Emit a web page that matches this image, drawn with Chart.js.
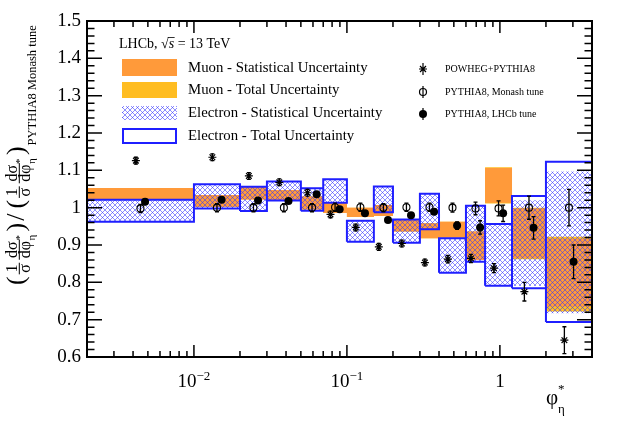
<!DOCTYPE html>
<html>
<head>
<meta charset="utf-8">
<script src="https://cdn.jsdelivr.net/npm/chart.js@4.4.1/dist/chart.umd.min.js"></script>
<style>
  html, body { margin: 0; padding: 0; background: #fff; }
</style>
</head>
<body>
<canvas id="phiChart" width="623" height="426" style="width:623px;height:426px"></canvas>
<script>
// phi*_eta ratio to PYTHIA8 Monash tune
const binEdges = [0.002, 0.01, 0.02, 0.03, 0.05, 0.07, 0.1, 0.15, 0.2, 0.3, 0.4, 0.6, 0.8, 1.2, 2.0, 4.0];

const muonStatLow  = [1.021, 1.002, 1.022, 1.019, 0.995, 0.986, 0.975, 0.978, 0.936, 0.918, 0.920, 0.860, 1.013, 0.865, 0.735];
const muonStatHigh = [1.053, 1.034, 1.057, 1.047, 1.030, 1.013, 1.000, 1.007, 0.969, 0.958, 0.962, 0.936, 1.106, 0.998, 0.917];
const muonTotLow   = [1.021, 1.002, 1.022, 1.019, 0.995, 0.986, 0.975, 0.978, 0.936, 0.918, 0.920, 0.860, 1.011, 0.862, 0.722];
const muonTotHigh  = [1.053, 1.034, 1.057, 1.047, 1.030, 1.013, 1.000, 1.007, 0.969, 0.958, 0.962, 0.936, 1.108, 1.000, 0.922];

const elecStatLow  = [0.962, 0.998, 0.991, 1.019, 0.992, 1.013, 0.909, 0.988, 0.906, 0.942, 0.826, 0.855, 0.791, 0.790, 0.717];
const elecStatHigh = [1.021, 1.063, 1.056, 1.070, 1.052, 1.076, 0.965, 1.057, 0.968, 1.037, 0.918, 1.005, 0.956, 1.020, 1.097];
const elecTotLow   = [0.962, 0.998, 0.991, 1.019, 0.992, 1.013, 0.909, 0.988, 0.906, 0.942, 0.826, 0.855, 0.791, 0.784, 0.694];
const elecTotHigh  = [1.021, 1.063, 1.056, 1.070, 1.052, 1.076, 0.965, 1.057, 0.968, 1.037, 0.918, 1.005, 0.956, 1.031, 1.123];

const powhegVal = [1.126, 1.135, 1.085, 1.068, 1.040, 0.982, 0.947, 0.895, 0.904, 0.853, 0.862, 0.864, 0.838, 0.775, 0.645];
const powhegErr = [0.009, 0.009, 0.009, 0.009, 0.009, 0.009, 0.009, 0.009, 0.009, 0.009, 0.010, 0.011, 0.012, 0.025, 0.036];
const monashVal = [0.998, 1.000, 1.000, 1.000, 1.000, 1.001, 1.001, 1.000, 1.001, 1.001, 1.000, 0.998, 0.998, 1.000, 1.000];
const monashErr = [0.011, 0.011, 0.011, 0.011, 0.011, 0.011, 0.011, 0.011, 0.011, 0.011, 0.012, 0.017, 0.020, 0.031, 0.049];
const lhcbVal   = [1.016, 1.021, 1.019, 1.018, 1.036, 0.996, 0.985, 0.967, 0.980, 0.989, 0.952, 0.947, 0.985, 0.946, 0.855];
const lhcbErr   = [0.005, 0.005, 0.005, 0.005, 0.005, 0.005, 0.005, 0.005, 0.005, 0.006, 0.010, 0.018, 0.022, 0.030, 0.045];

const yTickValues = [0.6, 0.7, 0.8, 0.9, 1.0, 1.1, 1.2, 1.3, 1.4, 1.5];
const yTickLabels = ['0.6', '0.7', '0.8', '0.9', '1', '1.1', '1.2', '1.3', '1.4', '1.5'];
const xTickValues = [0.01, 0.1, 1];
const xTickLabels = [['10', '\u22122'], ['10', '\u22121'], ['1', '']];

const ORANGE = '#ff9a3a';
const YELLOW = '#ffbd22';
const BLUE = '#1f1fff';
const SERIF = '"Liberation Serif", "Times New Roman", serif';

// bin centres (log) and small sideways offsets per model
const centres = powhegVal.map((_, i) => Math.sqrt(binEdges[i] * binEdges[i + 1]));
const shift = Math.pow(10, 0.03);
const capW = Math.pow(10, 0.013);

function stepLine(vals) {
  return binEdges.map((e, i) => ({ x: e, y: vals[Math.min(i, vals.length - 1)] }));
}

function boxOutlines(lo, hi) {
  const pts = [];
  lo.forEach((l, i) => {
    const a = binEdges[i], b = binEdges[i + 1];
    pts.push({ x: a, y: l }, { x: a, y: hi[i] }, { x: b, y: hi[i] }, { x: b, y: l }, { x: a, y: l }, { x: a, y: null });
  });
  return pts;
}

function errorBars(xs, vals, errs) {
  const pts = [];
  xs.forEach((x, i) => {
    const lo = vals[i] - errs[i], hi = vals[i] + errs[i];
    pts.push({ x: x, y: lo }, { x: x, y: hi }, { x: x, y: null });
    pts.push({ x: x / capW, y: lo }, { x: x * capW, y: lo }, { x: x, y: null });
    pts.push({ x: x / capW, y: hi }, { x: x * capW, y: hi }, { x: x, y: null });
  });
  return pts;
}

function makeHatch() {
  const c = document.createElement('canvas');
  c.width = 5; c.height = 5;
  const g = c.getContext('2d');
  g.strokeStyle = 'rgba(50,50,255,0.8)';
  g.lineWidth = 0.7;
  g.beginPath();
  g.moveTo(-1, -1); g.lineTo(6, 6);
  g.moveTo(6, -1); g.lineTo(-1, 6);
  g.stroke();
  return g.createPattern(c, 'repeat');
}
const hatch = makeHatch();

const powhegX = centres.map(c => c / shift);
const monashX = centres;
const lhcbX = centres.map(c => c * shift);

const bandLine = { type: 'line', stepped: true, borderColor: 'rgba(0,0,0,0)', borderWidth: 0, pointRadius: 0 };

function drawYTitle(ctx) {
  ctx.save();
  ctx.translate(19, 285);
  ctx.rotate(-Math.PI / 2);
  ctx.fillStyle = '#000';
  ctx.textBaseline = 'alphabetic';
  const big = '26px ' + SERIF, mid = '16px ' + SERIF, small = '11px ' + SERIF;
  let x = 0;
  const put = (t, font, y) => { ctx.font = font; ctx.fillText(t, x, y); x += ctx.measureText(t).width; };
  const frac = (num, den) => {
    ctx.font = mid;
    const wn = ctx.measureText(num).width, wd = ctx.measureText(den).width;
    const w = Math.max(wn, wd) + 3;
    ctx.fillText(num, x + (w - wn) / 2, -2.5);
    ctx.fillText(den, x + (w - wd) / 2, 10.5);
    ctx.fillRect(x, -0.2, w, 1);
    return w;
  };
  const group = () => {
    put('(', big, 5);
    x += 2;
    x += frac('1', '\u03c3') + 3;
    const w = frac('d\u03c3', 'd\u03c6');
    ctx.font = small;
    ctx.fillText('*', x + w - 1, 4);
    ctx.fillText('\u03b7', x + w - 1, 16);
    x += w + 8;
    put(')', big, 5);
  };
  group();
  x += 2;
  put('/', big, 5);
  x += 5;
  group();
  ctx.font = '12.5px ' + SERIF;
  ctx.fillText('PYTHIA8 Monash tune', x + 1, 17);
  ctx.restore();
}

const decorPlugin = {
  id: 'rootDecor',
  afterDraw(chart) {
    const { ctx, chartArea: a, scales: { x, y } } = chart;
    ctx.save();
    ctx.strokeStyle = '#000';
    ctx.fillStyle = '#000';

    // ticks on all four sides, pointing inward
    ctx.lineWidth = 1.5;
    ctx.beginPath();
    for (let i = 0; i <= 45; i++) {
      const py = y.getPixelForValue(0.6 + i * 0.02);
      const len = i % 5 === 0 ? 15 : 7.5;
      ctx.moveTo(a.left, py); ctx.lineTo(a.left + len, py);
      ctx.moveTo(a.right, py); ctx.lineTo(a.right - len, py);
    }
    for (let d = -3; d <= 0; d++) {
      for (let m = 1; m <= 9; m++) {
        const v = m * Math.pow(10, d);
        if (v < 0.002 - 1e-9 || v > 4 + 1e-9) continue;
        const px = x.getPixelForValue(v);
        const len = m === 1 ? 12 : 6;
        ctx.moveTo(px, a.bottom); ctx.lineTo(px, a.bottom - len);
        ctx.moveTo(px, a.top); ctx.lineTo(px, a.top + len);
      }
    }
    ctx.stroke();
    ctx.lineWidth = 2;
    ctx.strokeRect(a.left, a.top, a.right - a.left, a.bottom - a.top);

    // tick labels
    ctx.font = '19px ' + SERIF;
    ctx.textAlign = 'right';
    ctx.textBaseline = 'middle';
    yTickValues.forEach((v, i) => ctx.fillText(yTickLabels[i], a.left - 6, y.getPixelForValue(v)));
    ctx.textAlign = 'left';
    ctx.textBaseline = 'alphabetic';
    xTickValues.forEach((v, i) => {
      const [base, sup] = xTickLabels[i];
      ctx.font = '19px ' + SERIF;
      const wb = ctx.measureText(base).width;
      ctx.font = '13px ' + SERIF;
      const ws = sup ? ctx.measureText(sup).width : 0;
      const x0 = x.getPixelForValue(v) - (wb + ws) / 2;
      ctx.font = '19px ' + SERIF;
      ctx.fillText(base, x0, 387);
      if (sup) { ctx.font = '13px ' + SERIF; ctx.fillText(sup, x0 + wb, 380); }
    });

    // axis titles
    ctx.font = '21px ' + SERIF;
    ctx.fillText('\u03c6', 546, 404);
    ctx.font = '13px ' + SERIF;
    ctx.fillText('*', 558, 393);
    ctx.fillText('\u03b7', 558, 413);
    drawYTitle(ctx);

    // legend, left column
    ctx.font = '14px ' + SERIF;
    let tx = 119;
    const hdr1 = 'LHCb, \u221a';
    ctx.fillText(hdr1, tx, 48);
    tx += ctx.measureText(hdr1).width;
    ctx.font = 'italic 14px ' + SERIF;
    ctx.fillText('s', tx, 48);
    const ws = ctx.measureText('s').width;
    ctx.fillRect(tx - 1, 37, ws + 1.5, 0.8);
    tx += ws;
    ctx.font = '14px ' + SERIF;
    ctx.fillText(' = 13 TeV', tx, 48);

    ctx.fillStyle = ORANGE; ctx.fillRect(122, 59, 55, 17);
    ctx.fillStyle = YELLOW; ctx.fillRect(122, 82, 55, 16);
    ctx.fillStyle = hatch; ctx.fillRect(122, 106, 55, 14);
    ctx.strokeStyle = BLUE; ctx.lineWidth = 2; ctx.strokeRect(123, 129, 53, 14);
    ctx.fillStyle = '#000';
    ctx.textBaseline = 'middle';
    ctx.font = '14.8px ' + SERIF;
    ['Muon - Statistical Uncertainty', 'Muon - Total Uncertainty',
     'Electron - Statistical Uncertainty', 'Electron - Total Uncertainty']
      .forEach((t, i) => ctx.fillText(t, 188, [68, 90, 113, 136][i]));

    // legend, right column
    ctx.font = '10px ' + SERIF;
    ['POWHEG+PYTHIA8', 'PYTHIA8, Monash tune', 'PYTHIA8, LHCb tune']
      .forEach((t, i) => ctx.fillText(t, 445, [69, 92, 114][i]));
    ctx.strokeStyle = '#000';
    ctx.lineWidth = 1.2;
    ctx.beginPath();
    [69, 92, 114].forEach(cy => { ctx.moveTo(423, cy - 6); ctx.lineTo(423, cy + 6); });
    ctx.moveTo(419, 69); ctx.lineTo(427, 69);
    ctx.moveTo(420, 66); ctx.lineTo(426, 72);
    ctx.moveTo(426, 66); ctx.lineTo(420, 72);
    ctx.stroke();
    ctx.beginPath(); ctx.arc(423, 92, 3.5, 0, Math.PI * 2); ctx.stroke();
    ctx.beginPath(); ctx.arc(423, 114, 4, 0, Math.PI * 2); ctx.fill();
    ctx.restore();
  }
};

const ctx = document.getElementById('phiChart').getContext('2d');
const phiChart = new Chart(ctx, {
  type: 'line',
  data: {
    datasets: [
      { label: 'PYTHIA8, LHCb tune', data: lhcbX.map((x, i) => ({ x, y: lhcbVal[i] })), showLine: false,
        pointStyle: 'circle', pointRadius: 4, pointBackgroundColor: '#000', pointBorderColor: '#000', pointBorderWidth: 0 },
      { label: 'PYTHIA8, Monash tune', data: monashX.map((x, i) => ({ x, y: monashVal[i] })), showLine: false,
        pointStyle: 'circle', pointRadius: 3.5, pointBackgroundColor: 'rgba(0,0,0,0)', pointBorderColor: '#000', pointBorderWidth: 1.1 },
      { label: 'POWHEG+PYTHIA8', data: powhegX.map((x, i) => ({ x, y: powhegVal[i] })), showLine: false,
        pointStyle: 'star', pointRadius: 4, pointBorderColor: '#000', pointBorderWidth: 1.2 },
      { label: 'lhcb err', data: errorBars(lhcbX, lhcbVal, lhcbErr), borderColor: '#000', borderWidth: 1.3, pointRadius: 0, spanGaps: false },
      { label: 'monash err', data: errorBars(monashX, monashVal, monashErr), borderColor: '#000', borderWidth: 1.3, pointRadius: 0, spanGaps: false },
      { label: 'powheg err', data: errorBars(powhegX, powhegVal, powhegErr), borderColor: '#000', borderWidth: 1.3, pointRadius: 0, spanGaps: false },
      { label: 'Electron - Total Uncertainty', data: boxOutlines(elecTotLow, elecTotHigh), borderColor: BLUE, borderWidth: 2,
        borderJoinStyle: 'miter', pointRadius: 0, spanGaps: false, fill: false },
      { ...bandLine, label: 'e stat lo', data: stepLine(elecStatLow), fill: false },
      { ...bandLine, label: 'Electron - Statistical Uncertainty', data: stepLine(elecStatHigh), fill: '-1', backgroundColor: hatch },
      { ...bandLine, label: 'mu stat lo', data: stepLine(muonStatLow), fill: false },
      { ...bandLine, label: 'Muon - Statistical Uncertainty', data: stepLine(muonStatHigh), fill: '-1', backgroundColor: ORANGE },
      { ...bandLine, label: 'mu tot lo', data: stepLine(muonTotLow), fill: false },
      { ...bandLine, label: 'Muon - Total Uncertainty', data: stepLine(muonTotHigh), fill: '-1', backgroundColor: YELLOW }
    ]
  },
  options: {
    responsive: false,
    animation: false,
    layout: { padding: { left: 87, right: 31, top: 21, bottom: 69 } },
    scales: {
      x: { type: 'logarithmic', min: 0.002, max: 4, display: false },
      y: { type: 'linear', min: 0.6, max: 1.5, display: false }
    },
    plugins: { legend: { display: false }, tooltip: { enabled: false } }
  },
  plugins: [decorPlugin]
});
</script>
</body>
</html>
